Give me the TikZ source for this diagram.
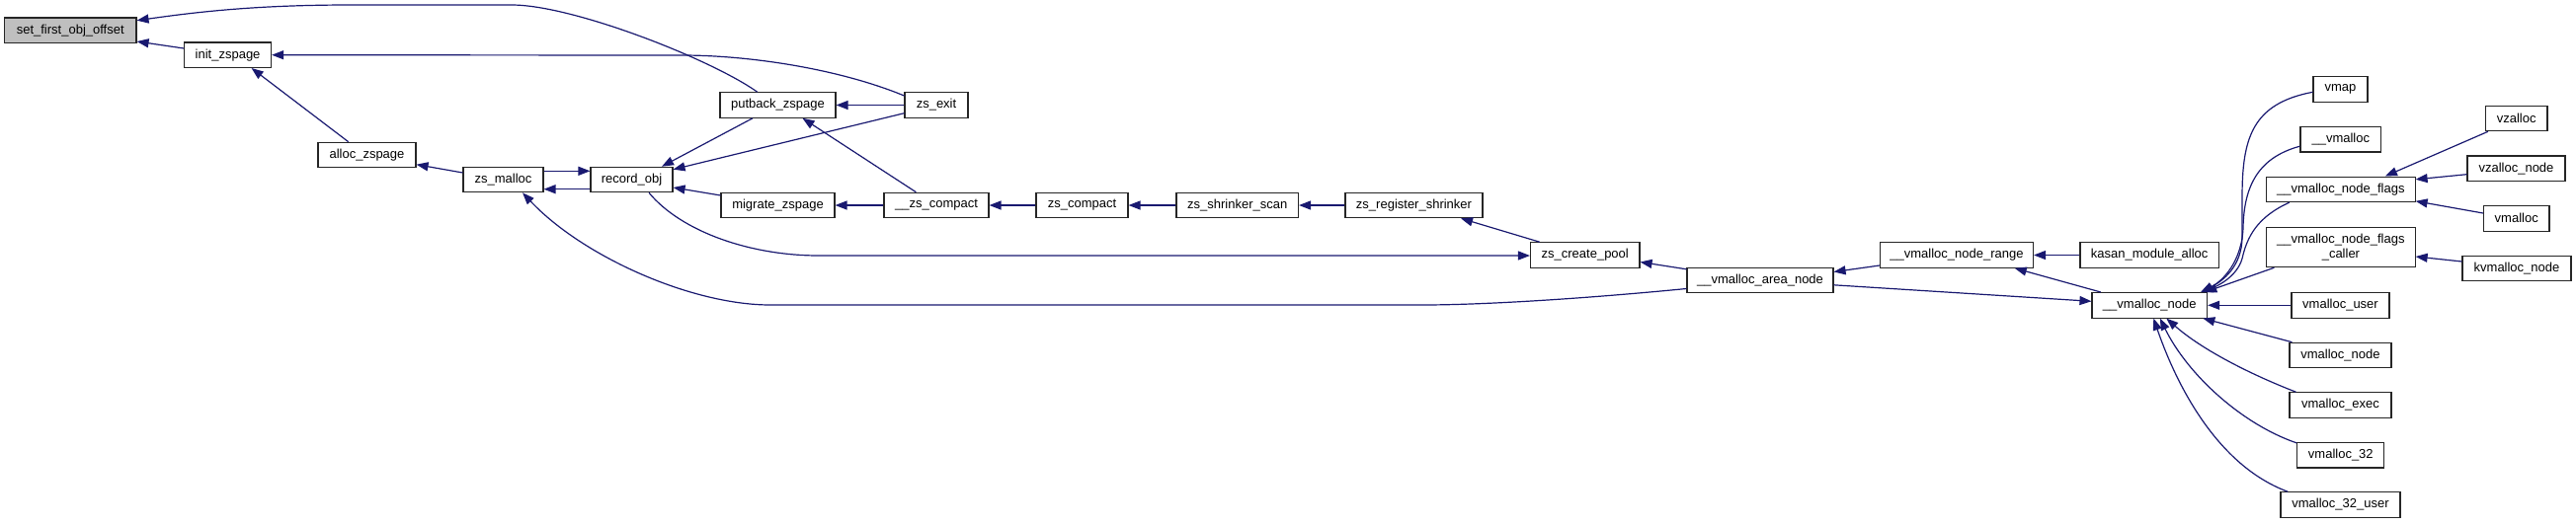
\documentclass[tikz,border=0pt]{standalone}
\usepackage{fontspec}
\setmainfont{Liberation Sans}
\usetikzlibrary{arrows.meta,calc}
\definecolor{edgecol}{HTML}{191970}
\begin{document}
\begin{tikzpicture}[x=1pt,y=-1pt,
  box/.style={draw=black!85, line width=1.1pt, fill=white, inner sep=0pt,
    minimum height=25.5pt, font=\fontsize{13}{15}\selectfont, anchor=center},
  edge/.style={draw=edgecol, line width=1.2pt, -{Triangle[length=12pt,width=9pt]}},
]
\useasboundingbox (0,0) rectangle (2608,531);

% nodes
\node[box, minimum width=133.5pt, fill=black!25] (sfo) at (71.25,30.75) {set\_first\_obj\_offset};
\node[box, minimum width=88pt] (init) at (230.6,55.7) {init\_zspage};
\node[box, minimum width=99pt] (alloc) at (371.5,157) {alloc\_zspage};
\node[box, minimum width=81pt] (zsm) at (509.5,182) {zs\_malloc};
\node[box, minimum width=83pt] (rec) at (639.5,182) {record\_obj};
\node[box, minimum width=117pt] (putback) at (787.5,106.5) {putback\_zspage};
\node[box, minimum width=64pt] (zsexit) at (948,106.5) {zs\_exit};
\node[box, minimum width=115pt] (migrate) at (787.5,208) {migrate\_zspage};
\node[box, minimum width=106pt] (zcompact) at (948,208) {\_\_zs\_compact};
\node[box, minimum width=93pt] (zscompact) at (1095.5,208) {zs\_compact};
\node[box, minimum width=123.5pt] (shrscan) at (1252.75,208) {zs\_shrinker\_scan};
\node[box, minimum width=139pt] (reg) at (1431.5,208) {zs\_register\_shrinker};
\node[box, minimum width=110.5pt] (pool) at (1604.75,258.5) {zs\_create\_pool};
\node[box, minimum width=148pt] (area) at (1782,283.8) {\_\_vmalloc\_area\_node};
\node[box, minimum width=155pt] (range) at (1981,258.5) {\_\_vmalloc\_node\_range};
\node[box, minimum width=140.4pt] (kasan) at (2176.2,258.5) {kasan\_module\_alloc};
\node[box, minimum width=116.6pt] (vnode) at (2176.3,309.3) {\_\_vmalloc\_node};
\node[box, minimum width=55pt] (vmap) at (2369.5,90.5) {vmap};
\node[box, minimum width=81.7pt] (vmallocu) at (2369.8,141.2) {\_\_vmalloc};
\node[box, minimum width=150.3pt] (flags) at (2369.9,191.8) {\_\_vmalloc\_node\_flags};
\node[box, minimum width=150.3pt, minimum height=40.4pt, align=center] (caller) at (2369.9,250.5) {\_\_vmalloc\_node\_flags\\\_caller};
\node[box, minimum width=99pt] (vuser) at (2369.5,309.3) {vmalloc\_user};
\node[box, minimum width=103pt] (vnodeb) at (2369.5,360) {vmalloc\_node};
\node[box, minimum width=103pt] (exec) at (2369.5,410.5) {vmalloc\_exec};
\node[box, minimum width=88pt] (v32) at (2369.8,461.2) {vmalloc\_32};
\node[box, minimum width=121pt] (v32u) at (2369.5,511.5) {vmalloc\_32\_user};
\node[box, minimum width=62.5pt] (vzalloc) at (2547.7,120) {vzalloc};
\node[box, minimum width=99pt] (vzallocn) at (2547.5,170.7) {vzalloc\_node};
\node[box, minimum width=66.5pt] (vmal) at (2547.7,221.3) {vmalloc};
\node[box, minimum width=110pt] (kvm) at (2548,271.8) {kvmalloc\_node};

% edges
\draw[edge] ($(init.west)+(0,-6.7)$) -- ($(sfo.east)+(0,11.25)$);
\draw[edge] ($(putback.north)+(-20.8,0)$) .. controls (720,60) and (580,5) .. (518,5)
   -- (355,5) .. controls (260,5) and (200,12) .. ($(sfo.east)+(0,-10)$);
\draw[edge] ($(alloc.north)+(-18.8,0)$) -- ($(init.south)+(24,0)$);
\draw[edge] ($(zsexit.west)+(0,-9.5)$) .. controls (850,70) and (760,56) .. (690,56) -- (init.east);
\draw[edge] ($(zsm.west)+(0,-7)$) -- ($(alloc.east)+(0,9.7)$);
\draw[edge] ($(zsm.east)+(0,-8.7)$) -- ($(rec.west)+(0,-8.7)$);
\draw[edge] ($(rec.west)+(0,9.7)$) -- ($(zsm.east)+(0,9.7)$);
\draw[edge] ($(area.west)+(0,8.7)$) .. controls (1600,303) and (1500,309) .. (1440,309)
   -- (780,309) .. controls (700,309) and (590,260) .. ($(zsm.south)+(19.5,0)$);
\draw[edge] ($(putback.south)+(-25.5,0)$) -- ($(rec.north)+(30.5,0)$);
\draw[edge] ($(zsexit.west)+(0,8.2)$) -- ($(rec.east)+(0,-10.3)$);
\draw[edge] ($(migrate.west)+(0,-10)$) -- ($(rec.east)+(0,8)$);
\draw[edge] ($(rec.south)+(17.5,0)$) .. controls (690,235) and (760,259) .. (829,259) -- ($(pool.west)+(0,0.5)$);
\draw[edge] (zsexit.west) -- (putback.east);
\draw[edge] ($(zcompact.north)+(-20.6,0)$) -- ($(putback.south)+(25,0)$);
\draw[edge] (zcompact.west) -- (migrate.east);
\draw[edge] (zscompact.west) -- (zcompact.east);
\draw[edge] (shrscan.west) -- (zscompact.east);
\draw[edge] (reg.west) -- (shrscan.east);
\draw[edge] ($(pool.north)+(-46,0)$) -- ($(reg.south)+(47.5,0)$);
\draw[edge] ($(area.west)+(0,-11)$) -- ($(pool.east)+(0,7)$);
\draw[edge] ($(range.west)+(0,10.5)$) -- ($(area.east)+(0,-8.3)$);
\draw[edge] ($(area.east)+(0,5)$) -- ($(vnode.west)+(0,-4)$);
\draw[edge] (kasan.west) -- (range.east);
\draw[edge] ($(vnode.north)+(-49.5,0)$) -- ($(range.south)+(58.7,0)$);
\draw[edge] ($(vmap.west)+(0,2.8)$) .. controls (2280,105) and (2270,140) .. (2270,200)
   -- (2270,240) .. controls (2270,270) and (2250,285) .. ($(vnode.north)+(52,0)$);
\draw[edge] ($(vmallocu.west)+(0,7)$) .. controls (2285,160) and (2272,190) .. (2271,230)
   .. controls (2270,265) and (2250,285) .. ($(vnode.north)+(52,0)$);
\draw[edge] ($(flags.south)+(-52,0)$) .. controls (2285,220) and (2275,240) .. (2270,262)
   .. controls (2265,280) and (2245,290) .. ($(vnode.north)+(52,0)$);
\draw[edge] ($(caller.south)+(-67.5,0)$) -- ($(vnode.north)+(56,0)$);
\draw[edge] (vuser.west) -- (vnode.east);
\draw[edge] ($(vnodeb.north west)+(3,0)$) -- ($(vnode.south)+(54,0)$);
\draw[edge] ($(exec.north west)+(7,0)$) .. controls (2280,380) and (2230,355) .. ($(vnode.south)+(17,0)$);
\draw[edge] ($(v32.north west)+(0,1)$) .. controls (2270,430) and (2215,380) .. ($(vnode.south)+(10.5,0)$);
\draw[edge] ($(v32u.north west)+(7.7,0)$) .. controls (2240,470) and (2200,380) .. ($(vnode.south)+(4,0)$);
\draw[edge] ($(vzalloc.south west)+(3,0)$) -- ($(flags.north)+(45,0)$);
\draw[edge] ($(vzallocn.west)+(0,6)$) -- ($(flags.east)+(0,-10)$);
\draw[edge] ($(vmal.west)+(0,-5.3)$) -- ($(flags.east)+(0,12)$);
\draw[edge] ($(kvm.west)+(0,-6.8)$) -- ($(caller.east)+(0,9.5)$);
\end{tikzpicture}
\end{document}
